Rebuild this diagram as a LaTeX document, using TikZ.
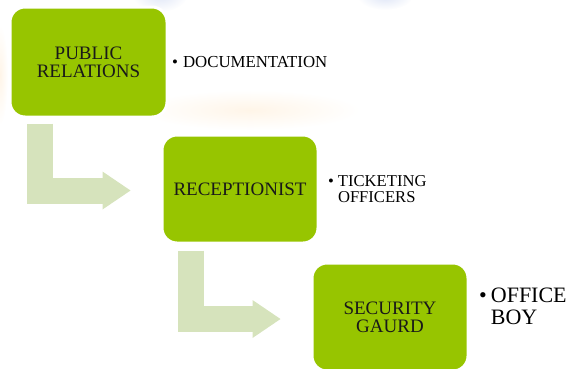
\documentclass[tikz,border=0pt]{standalone}
\usepackage{fontspec}
\setmainfont{Liberation Serif}
\usetikzlibrary{arrows.meta,calc}
\definecolor{boxgreen}{RGB}{151,197,0}
\definecolor{arrowgreen}{RGB}{214,227,188}
\definecolor{glowblue}{RGB}{222,229,246}
\definecolor{gloworange}{RGB}{255,245,232}
\begin{document}
\begin{tikzpicture}[x=1pt,y=-1pt,
  stagebox/.style={rectangle, rounded corners=15pt, fill=boxgreen, draw=white, line width=3pt,
    minimum width=156pt, minimum height=108pt, align=center,
    font=\fontsize{19}{18}\selectfont, text=black!90, inner sep=0pt},
  bent/.style={draw=arrowgreen, line width=26pt, line join=miter,
    -{Triangle[width=38pt,length=28pt,line width=0pt]}},
  bulletnote/.style={anchor=base west, inner sep=0pt, text=black}]
\useasboundingbox (0,0) rectangle (572,368);
\clip (0,0) rectangle (572,368);
% faint slide background
\shade[inner color=glowblue, outer color=white] (160,-6) ellipse (28pt and 18pt);
\shade[inner color=glowblue, outer color=white] (385,-4) ellipse (28pt and 14pt);
\shade[inner color=gloworange, outer color=white] (250,110) ellipse (110pt and 20pt);
\shade[inner color=gloworange, outer color=white] (0,75) ellipse (8pt and 50pt);
% stages
\node[stagebox, minimum width=157pt, minimum height=110pt] (b1) at (88.5,62) {PUBLIC\\RELATIONS};
\node[stagebox] (b2) at (240,189) {RECEPTIONIST};
\node[stagebox] (b3) at (390,317) {SECURITY\\GAURD};
% bent arrows
\coordinate (a1s) at ($(b1.south west)+(31.5,5)$);
\coordinate (a1e) at ($(b2.west)+(-30,1.5)$);
\coordinate (a2s) at ($(b2.south west)+(30.5,6)$);
\coordinate (a2e) at ($(b3.west)+(-30,2)$);
\draw[bent] (a1s) |- (a1e);
\draw[bent] (a2s) |- (a2e);
% bullet notes
\node[bulletnote, font=\fontsize{16.8}{16}\selectfont] (n1) at (172,67)
  {\begin{tabular}[t]{@{}l@{\hspace{5pt}}l@{}}\textbullet & DOCUMENTATION\end{tabular}};
\node[bulletnote, font=\fontsize{16.6}{16}\selectfont] (n2) at (328,186)
  {\begin{tabular}[t]{@{}l@{\hspace{4pt}}l@{}}\textbullet & TICKETING\\ & OFFICERS\end{tabular}};
\node[bulletnote, font=\fontsize{22}{22}\selectfont] (n3) at (479,302)
  {\begin{tabular}[t]{@{}l@{\hspace{4pt}}l@{}}\textbullet & OFFICE\\ & BOY\end{tabular}};
\end{tikzpicture}
\end{document}
